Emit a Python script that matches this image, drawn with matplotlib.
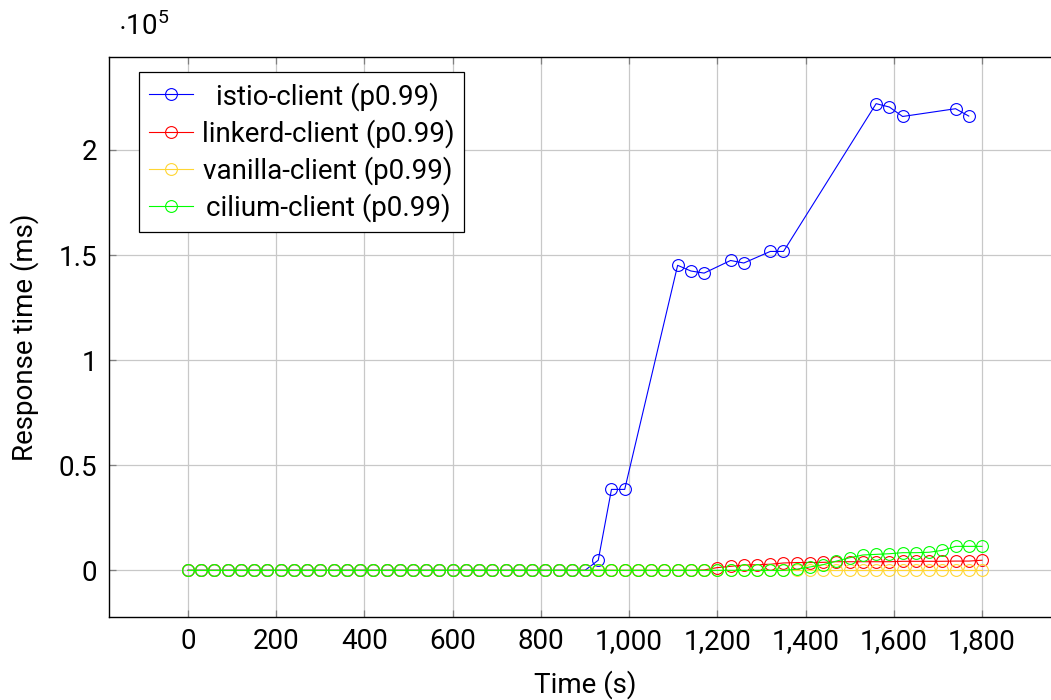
import numpy as np
import matplotlib.pyplot as plt
from matplotlib.ticker import FuncFormatter

plt.rcParams['font.family'] = ['Roboto', 'DejaVu Sans']
plt.rcParams['mathtext.fontset'] = 'custom'
plt.rcParams['mathtext.rm'] = 'Roboto'

# sample times (s), one every 30 s
t = np.arange(0, 1801, 30)

# istio p99 (ms); missing samples are simply skipped
istio_t = list(range(0, 901, 30)) + [930, 960, 990, 1110, 1140, 1170, 1230, 1260,
                                     1320, 1350, 1560, 1590, 1620, 1740, 1770]
istio_v = [0] * 31 + [4800, 38500, 38500, 145100, 142400, 141400, 147400, 146200,
                      151700, 151700, 222000, 220400, 215900, 219600, 216100]

linkerd_v = [0] * 39 + [200, 1300, 1900, 2500, 2700, 2900, 3500, 3700, 3700, 3800,
                        4100, 4100, 4100, 4100, 4100, 4300, 4300, 4300, 4300, 4400,
                        4400, 4800]

vanilla_v = [0] * 61

cilium_v = [0] * 46 + [500, 1600, 2700, 4400, 6000, 7300, 7600, 7900, 8400, 8400,
                       8600, 9500, 11400, 11400, 11400]

fig = plt.figure(figsize=(10.51, 7.0), dpi=100)
ax = fig.add_axes([108.6 / 1051, 83 / 700, 952.8 / 1051, 560 / 700])

style = dict(marker='o', markersize=8.5, markerfacecolor='none',
             markeredgewidth=0.8, linewidth=0.8)
ax.plot(istio_t, istio_v, color='#0000ff', label='istio-client (p0.99)', **style)
ax.plot(t, linkerd_v, color='#ff0000', label='linkerd-client (p0.99)', **style)
ax.plot(t, vanilla_v, color='#ffd633', label='vanilla-client (p0.99)', **style)
ax.plot(t, cilium_v, color='#00ff00', label='cilium-client (p0.99)', **style)

ax.set_xlim(-180, 1980)
ax.set_ylim(-22200, 244200)
ax.set_xticks(range(0, 1801, 200))
ax.set_yticks([0, 50000, 100000, 150000, 200000])
ax.xaxis.set_major_formatter(FuncFormatter(lambda v, p: f'{int(v):,}'))
ax.yaxis.set_major_formatter(FuncFormatter(lambda v, p: f'{v / 1e5:g}'))

fs = 20
ax.grid(True, color='#c8c8c8', linewidth=0.9)
ax.set_axisbelow(True)
ax.tick_params(direction='in', length=5, width=0.9, color='#808080',
               top=True, right=True, labelsize=fs, pad=8)
for s in ax.spines.values():
    s.set_linewidth(1.0)

ax.set_xlabel('Time (s)', fontsize=fs, labelpad=11)
ax.set_ylabel('Response time (ms)', fontsize=fs, labelpad=14)
ax.text(0.01, 1.028, r'$\cdot 10^5$', transform=ax.transAxes, fontsize=fs,
        va='bottom', ha='left')

leg = ax.legend(loc='upper left', bbox_to_anchor=(0.032, 0.973), fontsize=fs,
                frameon=True, fancybox=False, edgecolor='black', framealpha=1,
                handlelength=1.6, handletextpad=0.3, labelspacing=0.3,
                borderpad=0.35, borderaxespad=0)
leg.get_frame().set_linewidth(0.9)

# center legend labels within the column
fig.canvas.draw()
r = fig.canvas.get_renderer()
widths = [tx.get_window_extent(r).width for tx in leg.get_texts()]
for tx, w in zip(leg.get_texts(), widths):
    tx.set_x((max(widths) - w) / 2)

fig.savefig('out.png', dpi=100)
